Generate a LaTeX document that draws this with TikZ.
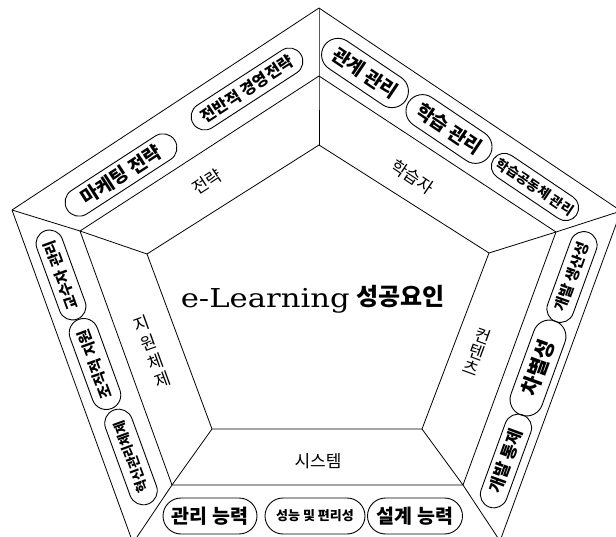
\documentclass[tikz,border=0pt]{standalone}
\usepackage{fontspec}
\newfontfamily\kr{Noto Sans CJK KR}
\newfontfamily\ttl{DejaVu Serif}
\usetikzlibrary{shapes.misc}
\newcommand\pfs[1]{\fontsize{#1}{#1}\selectfont}
\tikzset{
  pill/.style={draw, rounded rectangle, line width=0.9pt, inner sep=0pt, font=\kr\bfseries},
  lab/.style={inner sep=0pt, font=\kr\pfs{17}},
  pline/.style={line width=0.8pt, line join=miter}
}
\begin{document}
\begin{tikzpicture}[x=1pt,y=-1pt]
\useasboundingbox (0,0) rectangle (616,537);
\clip (0,0) rectangle (616,537);
% vertices
\coordinate (o1) at (319,8);   \coordinate (o2) at (621,211);
\coordinate (o3) at (500,541); \coordinate (o4) at (133,543);
\coordinate (o5) at (12,210);
\coordinate (m1) at (319,76);  \coordinate (m2) at (556,232);
\coordinate (m3) at (463,485); \coordinate (m4) at (172,485);
\coordinate (m5) at (80,231);
\coordinate (i1) at (319,145); \coordinate (i2) at (489,253);
\coordinate (i3) at (422,429); \coordinate (i4) at (212,429);
\coordinate (i5) at (147,254);
\draw[pline] (o1)--(o2)--(o3)--(o4)--(o5)--cycle;
\draw[pline] (m1)--(m2)--(m3)--(m4)--(m5)--cycle;
\draw[pline] (i1)--(i2)--(i3)--(i4)--(i5)--cycle;
\foreach \k in {1,...,5}{\draw[pline] (o\k)--(m\k)--(i\k);}
% title
\node[anchor=base east, inner sep=0pt, font=\ttl\pfs{26}, xscale=1.18] (t1) at (350,308) {e-Learning};
\node[anchor=base west, inner sep=0pt, font=\kr\bfseries\pfs{24}] (t2) at (356,306) {성공요인};
% category labels
\node[lab, rotate=33] (lstr) at (207,182) {전략};
\node[lab, rotate=-34] (llrn) at (413,177) {학습자};
\node[lab, rotate=-20, align=center, font=\kr\fontsize{17}{17}\selectfont] (lcon) at (477,352) {컨\\텐\\츠};
\node[lab, rotate=20, align=center, font=\kr\fontsize{17}{20}\selectfont] (lsup) at (152,352) {지\\원\\체\\제};
\node[lab] (lsys) at (318,461) {시스템};
% strategy pills
\node[pill, minimum width=128pt, minimum height=28pt, rotate=33] (p11) at (121,175) {\pfs{19}마케팅 전략};
\node[pill, minimum width=128pt, minimum height=27pt, rotate=33] (p12) at (247,89) {\pfs{16}전반적 경영전략};
% learner pills
\node[pill, minimum width=98pt, minimum height=33pt, rotate=-34] (p21) at (365,73) {\pfs{19}관계 관리};
\node[pill, minimum width=97pt, minimum height=33pt, rotate=-34] (p22) at (449,129) {\pfs{19}학습 관리};
\node[pill, minimum width=100pt, minimum height=26pt, rotate=-34] (p23) at (535,187) {\pfs{13.5}학습공동체 관리};
% contents pills
\node[pill, minimum width=95pt, minimum height=27pt, rotate=70] (p31) at (572,277) {\pfs{15}개발 생산성};
\node[pill, minimum width=100pt, minimum height=33pt, rotate=70] (p32) at (538,368) {\pfs{21}차별성};
\node[pill, minimum width=98pt, minimum height=27pt, rotate=70] (p33) at (506,461) {\pfs{17}개발 통제};
% support pills
\node[pill, minimum width=94pt, minimum height=27pt, rotate=110] (p41) at (61,275) {\pfs{15}교수자 관리};
\node[pill, minimum width=95pt, minimum height=29pt, rotate=110] (p42) at (95,364) {\pfs{15}조직적 지원};
\node[pill, minimum width=100pt, minimum height=28pt, rotate=110] (p43) at (131,457) {\pfs{13.5}혁신관리체제};
% system pills
\node[pill, minimum width=94pt, minimum height=36pt] (p51) at (210,516) {\pfs{19.5}관리 능력};
\node[pill, minimum width=100pt, minimum height=36pt] (p52) at (315,516) {\pfs{13}성능 및 편리성};
\node[pill, minimum width=95pt, minimum height=36pt] (p53) at (415,516) {\pfs{19.5}설계 능력};
\end{tikzpicture}
\end{document}
